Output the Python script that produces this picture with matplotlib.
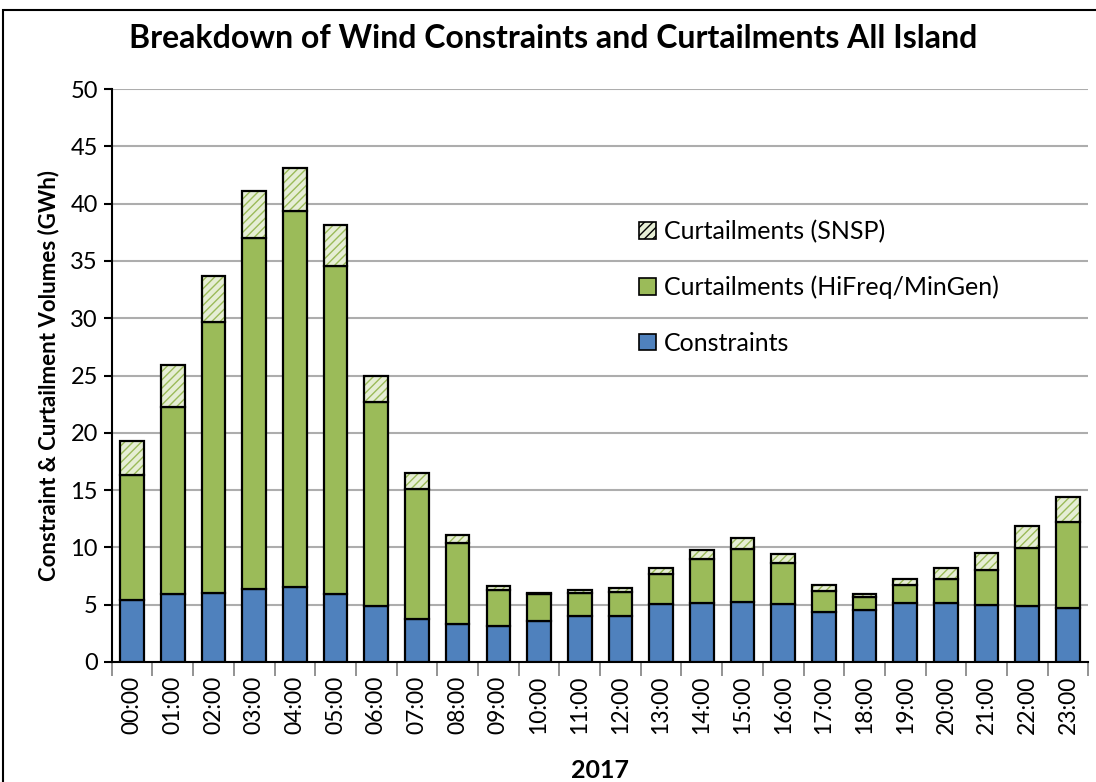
import matplotlib
matplotlib.use("Agg")
import matplotlib.pyplot as plt
from matplotlib.patches import Rectangle
import numpy as np

plt.rcParams['font.family'] = ['Lato', 'DejaVu Sans']

hours = ["00:00", "01:00", "02:00", "03:00", "04:00", "05:00", "06:00", "07:00",
         "08:00", "09:00", "10:00", "11:00", "12:00", "13:00", "14:00", "15:00",
         "16:00", "17:00", "18:00", "19:00", "20:00", "21:00", "22:00", "23:00"]

constraints = [5.4, 5.9, 6.0, 6.4, 6.5, 5.9, 4.85, 3.75, 3.3, 3.1, 3.6, 4.0,
               4.05, 5.05, 5.15, 5.25, 5.05, 4.35, 4.5, 5.15, 5.15, 5.0, 4.85, 4.7]
hifreq_top = [16.35, 22.25, 29.65, 37.0, 39.35, 34.55, 22.65, 15.1, 10.4, 6.3, 5.95, 6.05,
              6.15, 7.7, 8.95, 9.85, 8.65, 6.2, 5.65, 6.75, 7.2, 8.0, 9.95, 12.2]
totals = [19.3, 25.9, 33.7, 41.1, 43.1, 38.1, 24.95, 16.5, 11.05, 6.65, 6.05, 6.3,
          6.45, 8.2, 9.8, 10.8, 9.45, 6.75, 5.9, 7.25, 8.2, 9.5, 11.9, 14.4]

hifreq = [h - c for h, c in zip(hifreq_top, constraints)]
snsp = [t - h for t, h in zip(totals, hifreq_top)]

blue = '#4F81BD'
green = '#9BBB59'
hatch_bg = '#E6EED5'

fig = plt.figure(figsize=(10.96, 7.82), dpi=100)
ax = fig.add_axes([0.102, 0.1535, 0.891, 0.7325])

x = np.arange(len(hours))
w = 0.58
ax.bar(x, constraints, w, color=blue, edgecolor='black', linewidth=1.6, zorder=3)
ax.bar(x, hifreq, w, bottom=constraints, color=green, edgecolor='black', linewidth=1.6,
       zorder=3)
ax.bar(x, snsp, w, bottom=hifreq_top, color=hatch_bg, edgecolor=green, linewidth=0,
       hatch='////', zorder=3)
ax.bar(x, snsp, w, bottom=hifreq_top, facecolor='none', edgecolor='black', linewidth=1.6,
       zorder=4)

# legend handles
h_snsp = Rectangle((0, 0), 1, 1, facecolor=hatch_bg, edgecolor='black', hatch='////',
                   linewidth=1.2)
h_hf = Rectangle((0, 0), 1, 1, facecolor=green, edgecolor='black', linewidth=1.2)
h_c = Rectangle((0, 0), 1, 1, facecolor=blue, edgecolor='black', linewidth=1.2)
leg = ax.legend([h_snsp, h_hf, h_c],
                ['Curtailments (SNSP)', 'Curtailments (HiFreq/MinGen)', 'Constraints'],
                loc='upper left', bbox_to_anchor=(0.53, 0.789), frameon=False,
                fontsize=18, labelspacing=1.3, handlelength=0.65, handleheight=0.65,
                handletextpad=0.35, borderaxespad=0)

ax.set_ylim(0, 50)
ax.set_xlim(-0.5, len(hours) - 0.5)
ax.set_yticks(np.arange(0, 51, 5))
ax.tick_params(axis='y', labelsize=17, length=6, width=1.5, direction='out', pad=4)
ax.set_xticks(x)
ax.set_xticklabels(hours, rotation=90, fontsize=16.5)
ax.tick_params(axis='x', which='major', length=0, pad=10)
ax.set_xticks(np.arange(-0.5, len(hours), 1), minor=True)
ax.tick_params(axis='x', which='minor', length=10, width=1.2, color='#808080')

ax.yaxis.grid(True, color='#ADADAD', linewidth=1.5, zorder=0)
ax.set_axisbelow(True)
for s in ['top', 'right']:
    ax.spines[s].set_visible(False)
ax.spines['left'].set_linewidth(1.5)
ax.spines['bottom'].set_linewidth(1.5)

ax.set_ylabel('Constraint & Curtailment Volumes (GWh)', fontsize=16, fontweight='bold',
              labelpad=8)
ax.set_xlabel('2017', fontsize=18, fontweight='bold', labelpad=18)

fig.text(0.505, 0.951, 'Breakdown of Wind Constraints and Curtailments All Island',
         ha='center', va='center', fontsize=23, fontweight='bold')

fig.patches.append(Rectangle((0.003, -0.01), 1.1, 0.997, transform=fig.transFigure,
                             fill=False, edgecolor='black', linewidth=1.5))

fig.savefig('out.png', dpi=100)
